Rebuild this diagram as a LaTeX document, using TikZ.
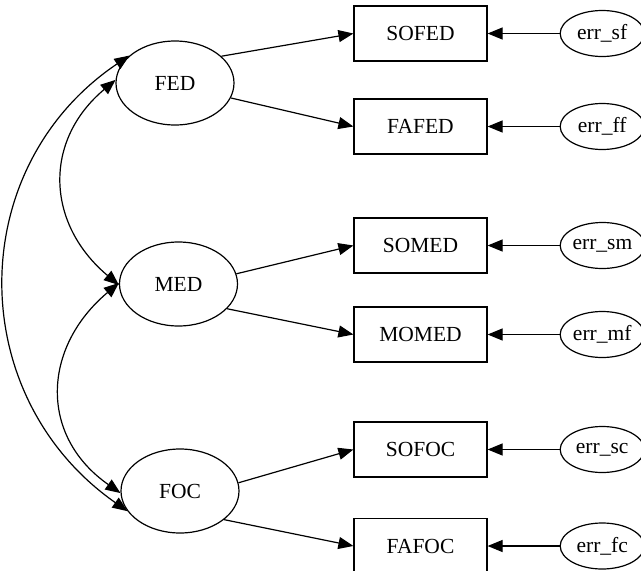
\documentclass[tikz,border=0pt]{standalone}
\usepackage{fontspec}
\setmainfont{Liberation Serif}
\usepackage{tikz}
\usetikzlibrary{shapes.geometric,arrows.meta,positioning}

\begin{document}
\begin{tikzpicture}[
    x=1pt, y=1pt,
    line width=1.2pt,
    font=\fontsize{21.5}{25}\selectfont,
    latent/.style={ellipse, draw, inner sep=0pt,
      minimum width=118pt, minimum height=84pt},
    indicator/.style={rectangle, draw, inner sep=0pt,
      minimum width=133pt, minimum height=55pt},
    errnode/.style={ellipse, draw, inner sep=0pt,
      minimum width=84pt, minimum height=46pt},
    loading/.style={-{Triangle[length=15pt,width=12pt]}},
    covar/.style={{Triangle[length=15pt,width=12pt]}-{Triangle[length=15pt,width=12pt]}}
  ]
  \useasboundingbox (0,0) rectangle (641,-571);

  % latent factors
  \node[latent] (fed) at (175,-83)    {FED};
  \node[latent] (med) at (178.5,-284) {MED};
  \node[latent] (foc) at (180,-491)   {FOC};

  % observed indicators
  \node[indicator] (sofed) at (420.5,-33.5)  {SOFED};
  \node[indicator] (fafed) at (420.5,-126.5) {FAFED};
  \node[indicator] (somed) at (420.5,-245.5) {SOMED};
  \node[indicator] (momed) at (420.5,-334.5) {MOMED};
  \node[indicator] (sofoc) at (420.5,-449.5) {SOFOC};
  \node[indicator] (fafoc) at (420.5,-546)   {FAFOC};

  % error terms
  \node[errnode, right=72pt of sofed] (errsf) {err\_sf};
  \node[errnode, right=72pt of fafed] (errff) {err\_ff};
  \node[errnode, right=72pt of somed] (errsm) {err\_sm};
  \node[errnode, right=72pt of momed] (errmf) {err\_mf};
  \node[errnode, right=72pt of sofoc] (errsc) {err\_sc};
  \node[errnode, right=72pt of fafoc] (errfc) {err\_fc};

  % loadings
  \draw[loading] (fed.30)  -- (sofed.west);
  \draw[loading] (fed.-15) -- (fafed.west);
  \draw[loading] (med.10)  -- (somed.west);
  \draw[loading] (med.-27) -- (momed.west);
  \draw[loading] (foc.8)   -- (sofoc.west);
  \draw[loading] (foc.-33) -- (fafoc.west);

  % errors
  \draw[loading] (errsf) -- (sofed);
  \draw[loading] (errff) -- (fafed);
  \draw[loading] (errsm) -- (somed);
  \draw[loading] (errmf) -- (momed);
  \draw[loading] (errsc) -- (sofoc);
  \draw[loading] (errfc) -- (fafoc);

  % covariances
  \draw[covar] (fed.177) .. controls +(220:95) and +(140:95) .. (med.181);
  \draw[covar] (med.179) .. controls +(220:100) and +(145:100) .. (foc.182);
  \draw[covar] (fed.149) .. controls +(214:200) and +(145:200) .. (foc.201);
\end{tikzpicture}
\end{document}
